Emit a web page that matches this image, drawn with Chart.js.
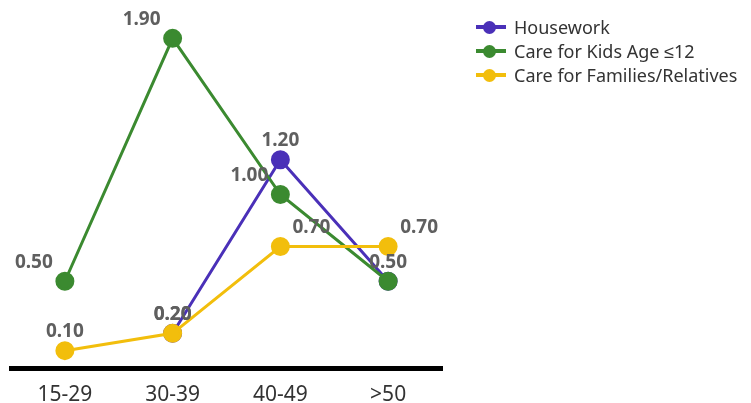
<!DOCTYPE html>
<html>
<head>
<meta charset="utf-8">
<script src="https://cdn.jsdelivr.net/npm/chart.js@4/dist/chart.umd.min.js"></script>
<style>
  html, body { margin: 0; padding: 0; background: #fff; }
  #wrap { position: relative; width: 751px; height: 403px; }
  #legend { position: absolute; left: 472px; top: 15px; font-family: "Noto Sans", sans-serif; font-size: 18px; color: #333; }
  .row { display: flex; align-items: center; height: 24px; }
  .mk { position: relative; width: 34px; height: 16px; margin-right: 8px; }
  .mk .ln { position: absolute; left: 4px; right: 0px; top: 6px; height: 4px; }
  .mk .dot { position: absolute; left: 11px; top: 1.5px; width: 13px; height: 13px; border-radius: 50%; }
</style>
</head>
<body>
<div id="wrap">
  <canvas id="c" width="751" height="403"></canvas>
  <div id="legend"></div>
</div>
<script>
const ageGroups = ['15-29', '30-39', '40-49', '>50'];
const housework = [null, 0.20, 1.20, 0.50];
const careKids = [0.50, 1.90, 1.00, 0.50];
const careFamilies = [0.10, 0.20, 0.70, 0.70];

const seriesNames = ['Housework', 'Care for Kids Age \u226412', 'Care for Families/Relatives'];
const seriesColors = ['#4a30b8', '#3b8a30', '#f2be0c'];

// where each value label sits relative to its point: 'c' above, 'l' above-left, 'r' above-right, '' none
const labelPlacement = [
  ['', 'c', 'c', 'c'],
  ['l', 'l', 'l', ''],
  ['c', 'c', 'r', 'r']
];

const valueLabels = {
  id: 'valueLabels',
  afterDatasetsDraw(chart) {
    const ctx = chart.ctx;
    ctx.save();
    ctx.font = 'bold 19px "Noto Sans", sans-serif';
    ctx.fillStyle = '#5f5f5f';
    ctx.textAlign = 'center';
    ctx.textBaseline = 'middle';
    chart.data.datasets.forEach((ds, i) => {
      const meta = chart.getDatasetMeta(i);
      meta.data.forEach((pt, j) => {
        const v = ds.data[j];
        const place = labelPlacement[i][j];
        if (v == null || !place) return;
        const dx = place === 'l' ? -31 : place === 'r' ? 31 : 0;
        ctx.fillText(v.toFixed(2), pt.x + dx, pt.y - 19);
      });
    });
    ctx.restore();
  }
};

const values = [housework, careKids, careFamilies];
const drawOrder = [2, 1, 0];

new Chart(document.getElementById('c'), {
  type: 'line',
  data: {
    labels: ageGroups,
    datasets: values.map((d, i) => ({
      label: seriesNames[i],
      data: d,
      borderColor: seriesColors[i],
      backgroundColor: seriesColors[i],
      pointBackgroundColor: seriesColors[i],
      pointBorderColor: seriesColors[i],
      borderWidth: 3,
      pointRadius: 8,
      pointHoverRadius: 8,
      tension: 0,
      order: drawOrder[i],
      spanGaps: false
    }))
  },
  options: {
    responsive: false,
    animation: false,
    events: [],
    layout: { padding: { left: 11, right: 309, top: 21, bottom: 0 } },
    plugins: { legend: { display: false }, tooltip: { enabled: false } },
    scales: {
      x: {
        offset: true,
        grid: { display: false, drawTicks: false },
        border: { display: true, color: '#000', width: 5 },
        ticks: { color: '#333', padding: 14, font: { family: '"Noto Sans", sans-serif', size: 21 } },
        afterFit(scale) { scale.height = 35; }
      },
      y: {
        display: false,
        min: 0,
        max: 2.0
      }
    }
  },
  plugins: [valueLabels]
});

const legend = document.getElementById('legend');
seriesNames.forEach((name, i) => {
  const row = document.createElement('div');
  row.className = 'row';
  row.innerHTML = '<span class="mk"><span class="ln" style="background:' + seriesColors[i] + '"></span><span class="dot" style="background:' + seriesColors[i] + '"></span></span><span>' + name + '</span>';
  legend.appendChild(row);
});
</script>
</body>
</html>
